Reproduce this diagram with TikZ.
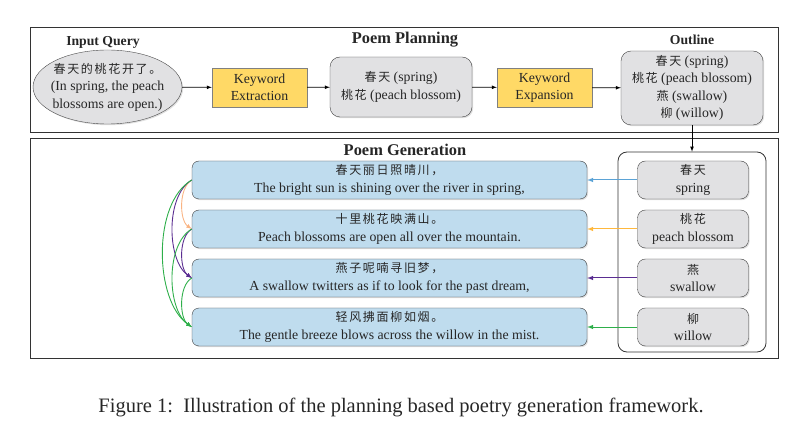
\documentclass[tikz,border=0pt]{standalone}
\usepackage{fontspec}
\setmainfont{Liberation Serif}
\newfontfamily\cjk[LetterSpace=14]{Noto Sans CJK SC}
\newcommand{\zh}[1]{{\fontsize{12}{17.5}\selectfont\cjk #1}}
\usetikzlibrary{shapes.geometric,shadows}
\definecolor{kwyellow}{HTML}{FFD966}
\definecolor{linefill}{HTML}{BFDCEE}
\definecolor{boxgray}{HTML}{E1E1E3}
\definecolor{arblue}{HTML}{5BA3D6}
\definecolor{arorange}{HTML}{FFB83D}
\definecolor{arpeach}{HTML}{F9B382}
\definecolor{arpurple}{HTML}{5A2D91}
\definecolor{argreen}{HTML}{2EAF4A}

\begin{document}
\begin{tikzpicture}[x=1pt,y=-1pt,>=latex]
			\tikzset{every node/.style={font=\fontsize{13.8}{17.5}\selectfont,align=center,text=black!85}}
			\tikzset{frame/.style={draw=black!80,line width=0.8pt}}
			\tikzset{title/.style={font=\fontsize{13.7}{15}\selectfont\bfseries}}
			\tikzset{bigtitle/.style={font=\fontsize{16.4}{18}\selectfont\bfseries}}
			\tikzset{shade/.style={drop shadow={shadow xshift=1.2pt,shadow yshift=-1.2pt,opacity=0.25}}}
			\tikzset{yellowbox/.style={shade,draw=black!50,fill=kwyellow,minimum width=95pt,minimum height=39pt,inner sep=1pt}}
			\tikzset{graybox/.style={shade,draw=black!75,fill=boxgray,rounded corners=10pt,inner sep=1pt}}
			\tikzset{keybox/.style={shade,draw=black!75,fill=boxgray,rounded corners=8pt,minimum width=111pt,minimum height=38pt,inner sep=1pt}}
			\tikzset{linebox/.style={shade,draw=black!75,fill=linefill,rounded corners=7pt,minimum width=395pt,minimum height=38pt,inner sep=1pt}}
			\tikzset{hop/.style={->,line width=0.9pt,out=210,in=145,looseness=0.8}}
			\useasboundingbox (0,0) rectangle (797,435);
			% planning part
			\node[frame,minimum width=748pt,minimum height=105pt] (planning) at (404,79.5) {};
			\node[bigtitle] (plantitle) at (405,40) {Poem Planning};
			\node[title] (querytitle) at (103,42) {Input Query};
			\node[shade,ellipse,draw=black!70,fill=boxgray,minimum width=149pt,minimum height=74pt] (query) at (107.5,87) {};
			\node (querytext) at (query) {\zh{春天的桃花开了。}\\(In spring, the peach\\blossoms are open.)};
			\node[yellowbox] (extract) at (259.5,87.5) {Keyword\\Extraction};
			\node[graybox,minimum width=142pt,minimum height=60pt] (keys) at (401,87) {\zh{春天} (spring)\\\zh{桃花} (peach blossom)};
			\node[yellowbox] (expand) at (544.5,87.5) {Keyword\\Expansion};
			\node[title] (outlinetitle) at (692,40) {Outline};
			\node[graybox,minimum width=142pt,minimum height=74pt] (outline) at (692,88) {\zh{春天} (spring)\\\zh{桃花} (peach blossom)\\\zh{燕} (swallow)\\\zh{柳} (willow)};
			\draw[->,line width=0.7pt] (query) -- (extract);
			\draw[->,line width=0.7pt] (extract) -- (keys);
			\draw[->,line width=0.7pt] (keys) -- (expand);
			\draw[->,line width=0.7pt] (expand) -- (outline);
			% generation part
			\node[frame,minimum width=748pt,minimum height=220pt] (generation) at (404,248) {};
			\node[bigtitle] (gentitle) at (405,150) {Poem Generation};
			\node[draw=black!80,line width=0.8pt,rounded corners=9pt,minimum width=148pt,minimum height=200pt] (outlinebox) at (692,252) {};
			\draw[->,line width=0.7pt] (outline) -- (outlinebox);
			\node[keybox] (kw1) at (693,180) {\zh{春天}\\spring};
			\node[keybox] (kw2) at (693,229) {\zh{桃花}\\peach blossom};
			\node[keybox] (kw3) at (693,278) {\zh{燕}\\swallow};
			\node[keybox] (kw4) at (693,327) {\zh{柳}\\willow};
			\node[linebox] (line1) at (389.5,180) {\zh{春天丽日照晴川，}\\The bright sun is shining over the river in spring,};
			\node[linebox] (line2) at (389.5,229) {\zh{十里桃花映满山。}\\Peach blossoms are open all over the mountain.};
			\node[linebox] (line3) at (389.5,278) {\zh{燕子呢喃寻旧梦，}\\A swallow twitters as if to look for the past dream,};
			\node[linebox] (line4) at (389.5,327) {\zh{轻风拂面柳如烟。}\\The gentle breeze blows across the willow in the mist.};
			\draw[->,line width=1pt,arblue] (kw1) -- (line1);
			\draw[->,line width=1pt,arorange] (kw2) -- (line2);
			\draw[->,line width=1pt,arpurple] (kw3) -- (line3);
			\draw[->,line width=1pt,argreen] (kw4) -- (line4);
			\draw[hop,arpeach] (line1.west) to (line2.west);
			\draw[hop,arpurple] (line1.west) to (line3.west);
			\draw[hop,argreen] (line1.west) to (line4.west);
			\draw[hop,arpurple] (line2.west) to (line3.west);
			\draw[hop,argreen] (line2.west) to (line4.west);
			\draw[hop,argreen] (line3.west) to (line4.west);
			\node[font=\fontsize{20.5}{24}\selectfont] (caption) at (401,407) {Figure 1:\ \ Illustration of the planning based poetry generation framework.};
		\end{tikzpicture}
\end{document}
